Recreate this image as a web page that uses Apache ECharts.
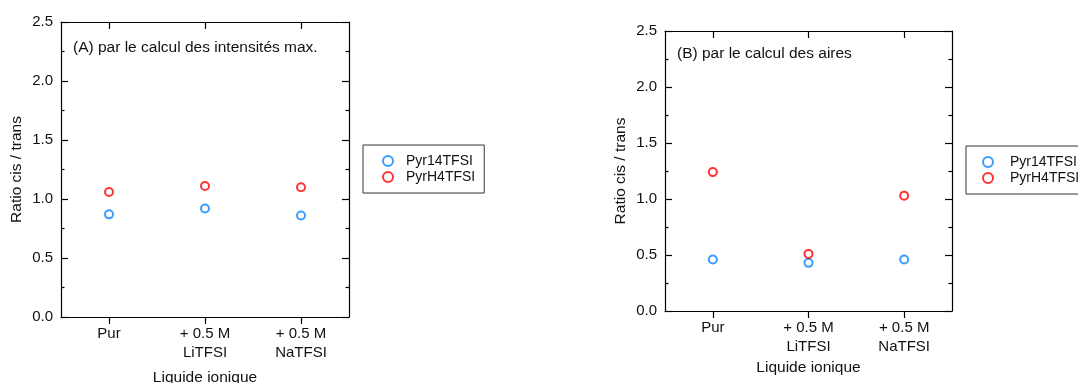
<!DOCTYPE html>
<html>
<head>
<meta charset="utf-8">
<script src="https://cdn.jsdelivr.net/npm/echarts@6/dist/echarts.min.js"></script>
<style>
html,body{margin:0;padding:0;background:#fff;}
#chart{width:1078px;height:383px;}
</style>
</head>
<body>
<div id="chart"></div>
<script>
// ---- data ----
const categories = ['Pur', '+ 0.5 M\nLiTFSI', '+ 0.5 M\nNaTFSI'];
const seriesNames = ['Pyr14TFSI', 'PyrH4TFSI'];
const intensitesPyr14 = [0.87, 0.92, 0.86];
const intensitesPyrH4 = [1.06, 1.11, 1.10];
const airesPyr14 = [0.46, 0.43, 0.46];
const airesPyrH4 = [1.24, 0.51, 1.03];
const yMin = 0, yMax = 2.5, yStep = 0.5;
const panelTitles = ['(A) par le calcul des intensités max.', '(B) par le calcul des aires'];
const xAxisName = 'Liquide ionique';
const yAxisName = 'Ratio cis / trans';

const colors = ['#0a84ff', '#ff0000'];
const FONT = 'Liberation Sans, Arial, sans-serif';
const txt = '#111';

function yAx(gi, right) {
  return {
    type: 'value', gridIndex: gi, min: yMin, max: yMax, interval: yStep,
    position: right ? 'right' : 'left',
    name: right ? '' : yAxisName, nameLocation: 'middle', nameGap: 36,
    nameMoveOverlap: false,
    nameTextStyle: {fontFamily: FONT, fontSize: 15.5, color: txt},
    axisLine: {show: true, onZero: false, lineStyle: {color: '#000', width: 1.2}},
    axisTick: {show: true, inside: true, length: 7, lineStyle: {color: '#000', width: 1.2}},
    minorTick: {show: true, splitNumber: 2, length: 3.5, lineStyle: {color: '#000', width: 1.2}},
    axisLabel: {show: !right, margin: 8, fontFamily: FONT, fontSize: 15, color: txt,
      formatter: v => v.toFixed(1)},
    splitLine: {show: false}
  };
}
function xAx(gi, top, nameGap) {
  return {
    type: 'category', gridIndex: gi, data: categories, boundaryGap: true,
    position: top ? 'top' : 'bottom',
    name: top ? '' : xAxisName, nameLocation: 'middle', nameGap: nameGap,
    nameMoveOverlap: false,
    nameTextStyle: {fontFamily: FONT, fontSize: 15.5, color: txt},
    axisLine: {show: true, onZero: false, lineStyle: {color: '#000', width: 1.2}},
    axisTick: {show: true, alignWithLabel: true, inside: !!top, length: 7, lineStyle: {color: '#000', width: 1.2}},
    axisLabel: {show: !top, margin: 7, fontFamily: FONT, fontSize: 15, color: txt, lineHeight: 19},
    splitLine: {show: false}
  };
}
function sc(name, data, xi, yi, ci) {
  return {
    type: 'scatter', name: name, data: data, xAxisIndex: xi, yAxisIndex: yi,
    symbol: 'emptyCircle', symbolSize: 8,
    itemStyle: {color: colors[ci], borderColor: colors[ci], borderWidth: 3},
    emphasis: {disabled: true}
  };
}
function legend(left, top, padLeft, textPad) {
  return {
    orient: 'vertical', left: left, top: top, data: seriesNames,
    padding: [9, 9, 9, padLeft], itemGap: 2, itemWidth: 10, itemHeight: 10,
    borderColor: '#333', borderWidth: 1, selectedMode: false,
    itemStyle: {borderWidth: 3},
    textStyle: {fontFamily: FONT, fontSize: 14, color: txt, padding: [0, 0, 0, textPad]}
  };
}

const chart = echarts.init(document.getElementById('chart'), null, {renderer: 'canvas'});
chart.setOption({
  animation: false,
  backgroundColor: '#fff',
  title: [
    {text: panelTitles[0], left: 73, top: 40, padding: 0,
      textStyle: {fontFamily: FONT, fontSize: 15.5, fontWeight: 'normal', color: txt}},
    {text: panelTitles[1], left: 677, top: 46, padding: 0,
      textStyle: {fontFamily: FONT, fontSize: 15.5, fontWeight: 'normal', color: txt}}
  ],
  legend: [legend(363, 145, 19, 8), legend(966, 146, 16, 12)],
  grid: [
    {left: 61, top: 22, width: 288, height: 295, show: false, outerBoundsMode: 'none'},
    {left: 665, top: 31, width: 287, height: 280, show: false, outerBoundsMode: 'none'}
  ],
  xAxis: [xAx(0, false, 53), xAx(0, true), xAx(1, false, 49), xAx(1, true)],
  yAxis: [yAx(0, false), yAx(0, true), yAx(1, false), yAx(1, true)],
  series: [
    sc(seriesNames[0], intensitesPyr14, 0, 0, 0),
    sc(seriesNames[1], intensitesPyrH4, 0, 0, 1),
    sc(seriesNames[0], airesPyr14, 2, 2, 0),
    sc(seriesNames[1], airesPyrH4, 2, 2, 1)
  ]
});
</script>
</body>
</html>
